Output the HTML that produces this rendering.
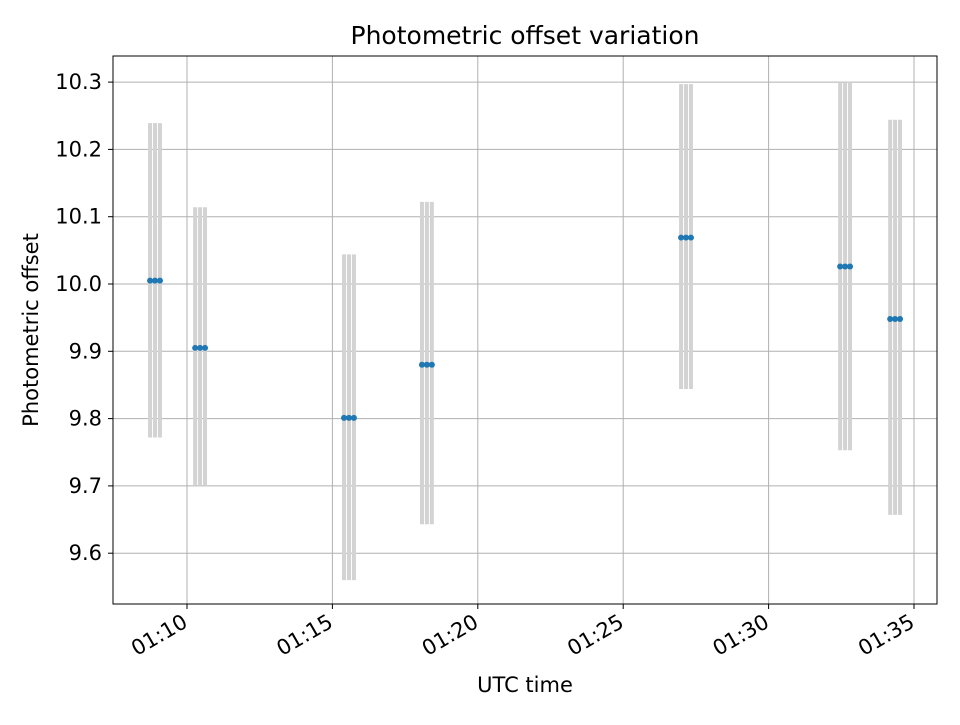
<!DOCTYPE html>
<html><head><meta charset="utf-8"><style>
body{margin:0;background:#fff}
text{font-family:"DejaVu Sans","Liberation Sans",sans-serif;fill:#000}
</style></head><body>
<svg id="chart" width="960" height="720" xmlns="http://www.w3.org/2000/svg">
<rect width="960" height="720" fill="#fff"/>
<g id="grid"></g>
<g id="errs"></g>
<g id="pts"></g>
<rect x="113" y="56" width="824" height="548" fill="none" stroke="#000" stroke-width="1"/>
<g id="axes"></g>
<text x="525" y="44" style="font-size:25px" text-anchor="middle">Photometric offset variation</text>
<text x="525" y="692" style="font-size:21px" text-anchor="middle">UTC time</text>
<text x="38" y="330" style="font-size:21px" text-anchor="middle" transform="rotate(-90 38 330)">Photometric offset</text>
</svg>
<script>
// minutes after 01:00
const groupTimes = [8.90, 10.45, 15.57, 18.25, 27.16, 32.63, 34.35];
const groupValues = [10.005, 9.905, 9.801, 9.880, 10.069, 10.026, 9.948];
const groupLow = [9.772, 9.700, 9.560, 9.643, 9.844, 9.753, 9.657];
const groupHigh = [10.239, 10.114, 10.044, 10.122, 10.297, 10.300, 10.244];
const pointOffsets = [-0.17, 0, 0.17];
const xTicks = [10, 15, 20, 25, 30, 35];
const xTickLabels = ["01:10", "01:15", "01:20", "01:25", "01:30", "01:35"];
const yTicks = [9.6, 9.7, 9.8, 9.9, 10.0, 10.1, 10.2, 10.3];
const yTickLabels = ["9.6", "9.7", "9.8", "9.9", "10.0", "10.1", "10.2", "10.3"];

const L=113,R=937,T=56,B=604;
const xs = m => 187 + (m-10)*29.08;
const ys = v => 284 - (v-10)*673;
const NS="http://www.w3.org/2000/svg";
function mk(tag,attrs,parent){const e=document.createElementNS(NS,tag);for(const k in attrs)e.setAttribute(k,attrs[k]);parent.appendChild(e);return e;}
const grid=document.getElementById('grid'),axes=document.getElementById('axes'),errs=document.getElementById('errs'),pts=document.getElementById('pts');
xTicks.forEach((t,i)=>{
  const x=xs(t);
  const g=mk('line',{x1:x,x2:x,y1:T,y2:B,stroke:'#b0b0b0','stroke-width':1},grid);
  
  
  const tk=mk('line',{x1:x,x2:x,y1:B,y2:B+5,stroke:'#000'},axes);
  
  
  const tx=mk('text',{x:x+2,y:B+22,style:'font-size:21px','text-anchor':'end',transform:`rotate(-30 ${x+2} ${B+22})`},axes);
  tx.textContent=xTickLabels[i];
  
  
});
yTicks.forEach((t,i)=>{
  const y=ys(t);
  const g=mk('line',{x1:L,x2:R,y1:y,y2:y,stroke:'#b0b0b0','stroke-width':1},grid);
  
  
  const tk=mk('line',{x1:L-5,x2:L,y1:y,y2:y,stroke:'#000'},axes);
  
  
  const tx=mk('text',{x:L-11,y:y+7,style:'font-size:21px','text-anchor':'end'},axes);
  tx.textContent=yTickLabels[i];
  
  
});
groupTimes.forEach((gt,i)=>{
  pointOffsets.forEach(o=>{
    const x=xs(gt+o);
    const e=mk('line',{x1:x,x2:x,y1:ys(groupHigh[i]),y2:ys(groupLow[i]),stroke:'#d3d3d3','stroke-width':4},errs);
    
    
  });
  pointOffsets.forEach(o=>{
    const c=mk('circle',{cx:xs(gt+o),cy:ys(groupValues[i]),r:3,fill:'#1f77b4'},pts);
    
    
  });
});
</script>
</body></html>
